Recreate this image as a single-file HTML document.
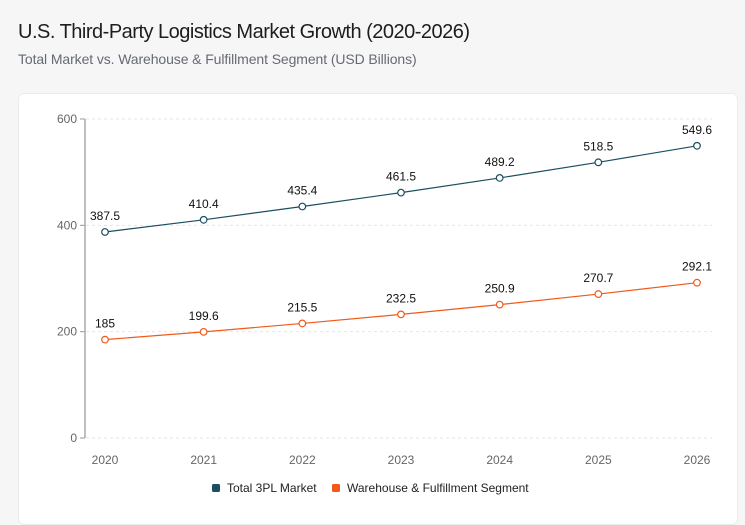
<!DOCTYPE html>
<html><head><meta charset="utf-8"><style>
body{margin:0;width:745px;height:512px;background:#f6f6f6;font-family:"Liberation Sans",sans-serif;overflow:hidden;position:relative}
h1{position:absolute;left:18px;top:21px;margin:0;font-size:20px;font-weight:normal;color:#1d1d1f;letter-spacing:-0.5px}
.sub{position:absolute;left:18px;top:51px;font-size:14px;color:#666a73;letter-spacing:-0.1px}
.card{position:absolute;left:18px;top:93px;width:718px;height:430px;background:#fff;border:1px solid #ececec;border-radius:6px}
svg{position:absolute;left:0;top:0}
</style></head><body>
<h1>U.S. Third-Party Logistics Market Growth (2020-2026)</h1>
<div class="sub">Total Market vs. Warehouse &amp; Fulfillment Segment (USD Billions)</div>
<div class="card"></div>
<svg id="c" width="745" height="512"></svg>
<script>
const years=["2020","2021","2022","2023","2024","2025","2026"];
const total=[387.5,410.4,435.4,461.5,489.2,518.5,549.6];
const warehouse=[185,199.6,215.5,232.5,250.9,270.7,292.1];
const yTicks=[0,200,400,600];
const NS="http://www.w3.org/2000/svg";
const svg=document.getElementById('c');
const x=i=>105+i*(697-105)/(years.length-1);
const y=v=>438-v*(438-119)/600;
function el(t,a,p){const e=document.createElementNS(NS,t);for(const k in a)e.setAttribute(k,a[k]);(p||svg).appendChild(e);return e;}
yTicks.forEach(t=>{
  const g=el('line',{x1:86,x2:712,y1:y(t),y2:y(t),stroke:'#e6e6e6','stroke-dasharray':'3,3'});
  
  
  el('line',{x1:80,x2:85,y1:y(t),y2:y(t),stroke:'#999'});
  const l=el('text',{x:77,y:y(t)+4,'text-anchor':'end','font-size':12,fill:'#666'});l.textContent=t;
  
  
});
const ax=el('line',{x1:85,x2:85,y1:119,y2:438,stroke:'#aaa','stroke-width':1.5});


years.forEach((yr,i)=>{
  const l=el('text',{x:x(i),y:464,'text-anchor':'middle','font-size':12,fill:'#666'});l.textContent=yr;
  
  
});
function series(data,color,name){
  const p=el('polyline',{points:data.map((v,i)=>x(i)+','+y(v)).join(' '),fill:'none',stroke:color,'stroke-width':1.2});
  
  
  data.forEach((v,i)=>{
    const c=el('circle',{cx:x(i),cy:y(v),r:3.3,fill:'#fff',stroke:color,'stroke-width':1.2});
    
    
    const t=el('text',{x:x(i),y:y(v)-12,'text-anchor':'middle','font-size':12,fill:'#111'});t.textContent=v;
    
    
  });
}
series(total,'#1b4f5f','total');
series(warehouse,'#f05a1a','warehouse');
[[212,'#1b4f5f','Total 3PL Market','legend-total'],[332,'#f05a1a','Warehouse & Fulfillment Segment','legend-warehouse']].forEach(([lx,c,txt,n])=>{
  const r=el('rect',{x:lx,y:484,width:8,height:8,rx:1.5,fill:c});
  
  
  const t=el('text',{x:lx+15,y:492,'font-size':12,fill:'#222'});t.textContent=txt;
  
  
});
</script>
</body></html>
